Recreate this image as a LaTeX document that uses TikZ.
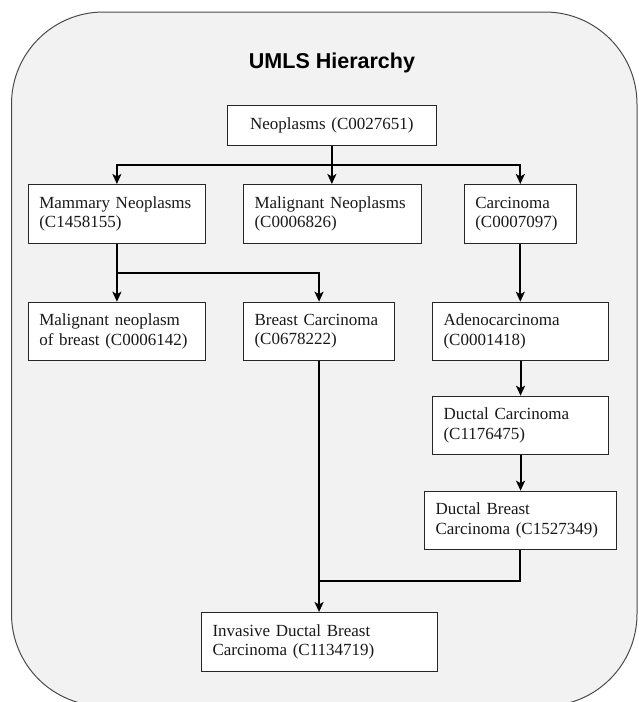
\documentclass[tikz,border=0pt]{standalone}
\usepackage{fontspec}
\setmainfont{Liberation Serif}
\newfontfamily\titlefont{Liberation Sans}
\usetikzlibrary{arrows.meta}
\definecolor{panelbg}{HTML}{F2F2F2}
\definecolor{panelline}{HTML}{4A4A4A}
\begin{document}
\begin{tikzpicture}[x=1pt,y=-1pt,
  concept/.style={draw=black!85, line width=1.1pt, fill=white, anchor=north west,
    inner xsep=11pt, inner ysep=0pt, align=left,
    font=\fontsize{17}{19.4}\selectfont, text=black!90},
  link/.style={draw=black, line width=2pt},
  arrow/.style={link, -{Stealth[length=10pt,width=9pt,inset=2.5pt]}}]
\useasboundingbox (0,0) rectangle (639,702);
% rounded panel
\draw[panelline, line width=1pt, fill=panelbg, rounded corners=92pt] (11.5,12) rectangle (637,706);
\node[font=\titlefont\bfseries\fontsize{21.5}{24}\selectfont] (title) at (332,63) {UMLS Hierarchy};
% concepts
\node[concept, align=center, text width=186.6pt, minimum height=40pt] (neo) at (227,105) {Neoplasms (C0027651)};
\node[concept, text width=155.3pt, minimum height=59pt] (mam) at (27.7,184) {Mammary Neoplasms\\(C1458155)};
\node[concept, text width=155.5pt, minimum height=59pt] (mal) at (243,184) {Malignant Neoplasms\\(C0006826)};
\node[concept, text width=90.1pt, minimum height=59pt] (car) at (463.7,184) {Carcinoma\\(C0007097)};
\node[concept, text width=155.3pt, minimum height=58.3pt] (mnb) at (27.7,301.7) {Malignant neoplasm\\of breast (C0006142)};
\node[concept, text width=129pt, minimum height=58.3pt] (bc) at (243,301.7) {Breast Carcinoma\\(C0678222)};
\node[concept, text width=154pt, minimum height=58.3pt] (ade) at (432,301.7) {Adenocarcinoma\\(C0001418)};
\node[concept, text width=154pt, minimum height=58.3pt] (duc) at (432,395.7) {Ductal Carcinoma\\(C1176475)};
\node[concept, text width=169.7pt, minimum height=58.6pt] (dbc) at (424,490.7) {Ductal Breast\\Carcinoma (C1527349)};
\node[concept, text width=214pt, minimum height=59pt] (inv) at (201,612) {Invasive Ductal Breast\\Carcinoma (C1134719)};
% junction points
\coordinate (j1) at (neo.south |- 0,165);
\coordinate (j2) at (mam.south |- 0,272.7);
\coordinate (j3) at (bc.south |- 0,580.7);
% connectors
\draw[link] (neo.south) -- (j1);
\draw[arrow] (j1) -| (mam.north);
\draw[arrow] (j1) -| (car.north);
\draw[arrow] (j1) -- (mal.north -| j1);
\draw[arrow] (mam.south) -- (mnb.north);
\draw[arrow] (j2) -| (bc.north);
\draw[arrow] (car.south) -- (ade.north -| car.south);
\draw[arrow] (ade.south) -- (duc.north);
\draw[arrow] (duc.south) -- (dbc.north -| duc.south);
\draw[link] (dbc.south) |- (j3);
\draw[arrow] (bc.south) -- (inv.north -| bc.south);
\end{tikzpicture}
\end{document}
